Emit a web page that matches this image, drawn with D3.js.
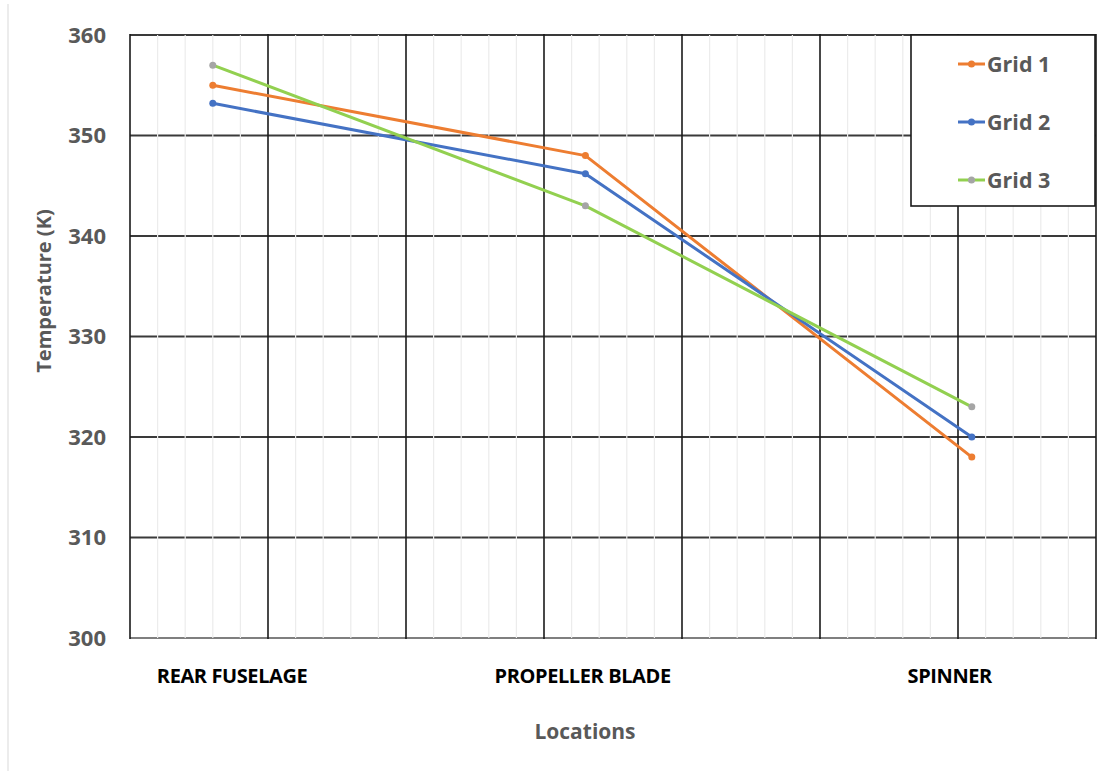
<!DOCTYPE html>
<html>
<head>
<meta charset="utf-8">
<script src="https://cdn.jsdelivr.net/npm/d3@7"></script>
<style>
  html, body { margin: 0; padding: 0; background: #fff; }
  svg { display: block; }
  text { font-family: "Open Sans", "Noto Sans", sans-serif; font-weight: 700; }
</style>
</head>
<body>
<svg id="chart" width="1119" height="771"></svg>
<script>
// Measurement locations and where each one sits on the horizontal axis
const locations = ["REAR FUSELAGE", "PROPELLER BLADE", "SPINNER"];
const locationX = [0.6, 3.3, 6.1];
const locationLabelX = [0.74, 3.28, 5.94];

// Temperature (K) for each mesh
const grid1 = [355, 348, 318];
const grid2 = [353.2, 346.2, 320];
const grid3 = [357, 343, 323];

const seriesNames = ["Grid 1", "Grid 2", "Grid 3"];
const lineColors = ["#ED7D31", "#4472C4", "#92D050"];
const markerColors = ["#ED7D31", "#4472C4", "#A5A5A5"];

const yTicks = [300, 310, 320, 330, 340, 350, 360];

const svg = d3.select("#chart");
const plot = { left: 130, right: 1096, top: 35, bottom: 638 };

const x = d3.scaleLinear().domain([0, 7]).range([plot.left, plot.right]);
const y = d3.scaleLinear().domain([300, 360]).range([plot.bottom, plot.top]);

// chart area left edge
svg.append("line")
  .attr("x1", 8).attr("x2", 8).attr("y1", 4).attr("y2", 771)
  .attr("stroke", "#d9d9d9").attr("stroke-width", 1);

// horizontal major gridlines
svg.append("g")
  .selectAll("line").data(yTicks).join("line")
  .attr("x1", plot.left).attr("x2", plot.right)
  .attr("y1", d => y(d)).attr("y2", d => y(d))
  .attr("stroke", d => d === 300 ? "#7f7f7f" : "#3a3a3a")
  .attr("stroke-width", 2);

// minor vertical gridlines
const minorX = d3.range(0, 7.001, 0.2).filter(v => Math.abs(v - Math.round(v)) > 1e-6);
svg.append("g")
  .selectAll("line").data(minorX).join("line")
  .attr("x1", d => x(d)).attr("x2", d => x(d))
  .attr("y1", plot.top).attr("y2", plot.bottom)
  .attr("stroke", "#ececec").attr("stroke-width", 1.2);

// major vertical gridlines
svg.append("g")
  .selectAll("line").data(d3.range(0, 8)).join("line")
  .attr("x1", d => x(d)).attr("x2", d => x(d))
  .attr("y1", plot.top - 1).attr("y2", plot.bottom + 1)
  .attr("stroke", "#1a1a1a").attr("stroke-width", 1.6);

// y tick labels
svg.append("g")
  .selectAll("text").data(yTicks).join("text")
  .attr("x", 106).attr("y", d => y(d))
  .attr("dy", "0.35em")
  .attr("text-anchor", "end")
  .attr("font-size", 22)
  .attr("fill", "#595959")
  .text(d => d);

// series lines and markers
const series = [grid1, grid2, grid3];
const line = d3.line().x((d, i) => x(locationX[i])).y(d => y(d));
series.forEach((vals, s) => {
  svg.append("path")
    .attr("d", line(vals))
    .attr("fill", "none")
    .attr("stroke", lineColors[s])
    .attr("stroke-width", 3)
    .attr("stroke-linejoin", "round");
  svg.append("g")
    .selectAll("circle").data(vals).join("circle")
    .attr("cx", (d, i) => x(locationX[i]))
    .attr("cy", d => y(d))
    .attr("r", 3.5)
    .attr("fill", markerColors[s]);
});

// location labels
svg.append("g")
  .selectAll("text").data(locations).join("text")
  .attr("x", (d, i) => x(locationLabelX[i]))
  .attr("y", 683)
  .attr("text-anchor", "middle")
  .attr("font-size", 20)
  .attr("letter-spacing", -0.4)
  .attr("fill", "#000")
  .text(d => d);

// axis titles
svg.append("text")
  .attr("x", 585).attr("y", 739)
  .attr("text-anchor", "middle")
  .attr("font-size", 21)
  .attr("fill", "#595959")
  .text("Locations");

svg.append("text")
  .attr("transform", "translate(51,291) rotate(-90)")
  .attr("text-anchor", "middle")
  .attr("font-size", 20)
  .attr("fill", "#595959")
  .text("Temperature (K)");

// legend
const legend = svg.append("g");
legend.append("rect")
  .attr("x", 911).attr("y", 35).attr("width", 184).attr("height", 171)
  .attr("fill", "#fff").attr("stroke", "#1a1a1a").attr("stroke-width", 1.6);
const legendY = [64, 122, 180];
seriesNames.forEach((name, s) => {
  legend.append("line")
    .attr("x1", 958).attr("x2", 985)
    .attr("y1", legendY[s]).attr("y2", legendY[s])
    .attr("stroke", lineColors[s]).attr("stroke-width", 3);
  legend.append("circle")
    .attr("cx", 971.5).attr("cy", legendY[s]).attr("r", 3.5)
    .attr("fill", markerColors[s]);
  legend.append("text")
    .attr("x", 987).attr("y", legendY[s]).attr("dy", "0.35em")
    .attr("font-size", 21.5)
    .attr("fill", "#595959")
    .text(name);
});
</script>
</body>
</html>
